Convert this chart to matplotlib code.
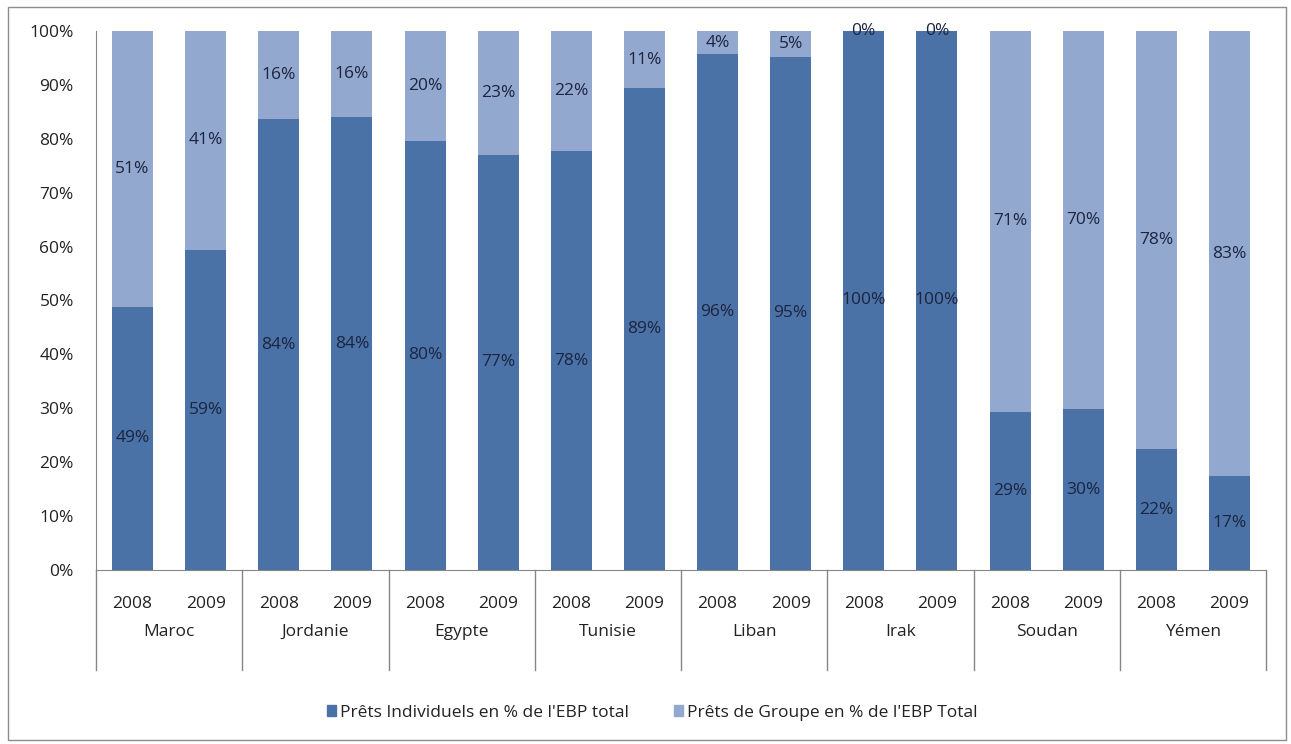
import matplotlib
matplotlib.use("Agg")
import matplotlib.pyplot as plt
from matplotlib.patches import Rectangle
import matplotlib.transforms as mtransforms

plt.rcParams['font.family'] = ['Open Sans', 'DejaVu Sans']

countries = ["Maroc", "Jordanie", "Egypte", "Tunisie", "Liban", "Irak", "Soudan", "Yémen"]
years = ["2008", "2009"]
individuels = [48.8, 59.4, 83.6, 84.0, 79.6, 77.0, 77.7, 89.4, 95.7, 95.2, 100.0, 100.0, 29.4, 29.8, 22.4, 17.4]
groupe = [51.2, 40.6, 16.4, 16.0, 20.4, 23.0, 22.3, 10.6, 4.3, 4.8, 0.0, 0.0, 70.6, 70.2, 77.6, 82.6]
yticks = [0, 10, 20, 30, 40, 50, 60, 70, 80, 90, 100]
legend_labels = ["Prêts Individuels en % de l'EBP total", "Prêts de Groupe en % de l'EBP Total"]

c_ind = "#4A72A6"
c_grp = "#93A8CE"
txt = "#1C2440"
fs = 12.5

W, H = 1291, 744
fig = plt.figure(figsize=(W / 100, H / 100), dpi=100)
ax = fig.add_axes([96 / W, 1 - 570 / H, (1266 - 96) / W, (570 - 31) / H])

x = list(range(len(individuels)))
ax.bar(x, individuels, width=0.56, color=c_ind, zorder=2)
ax.bar(x, groupe, width=0.56, bottom=individuels, color=c_grp, zorder=2)

for i in x:
    v1, v2 = individuels[i], groupe[i]
    ax.text(i, v1 / 2, f"{v1:.0f}%", ha="center", va="center", fontsize=fs, color=txt, zorder=3)
    ax.text(i, v1 + v2 / 2, f"{v2:.0f}%", ha="center", va="center", fontsize=fs, color=txt, zorder=3)

ax.set_xlim(-0.5, len(individuels) - 0.5)
ax.set_ylim(0, 100)
ax.set_yticks(yticks)
ax.set_yticklabels([f"{t}%" for t in yticks], fontsize=fs, color="#222222")
ax.tick_params(axis="y", length=0, pad=16)
ax.set_xticks([])
for s in ["top", "right"]:
    ax.spines[s].set_visible(False)
ax.spines["left"].set_color("#868686")
ax.spines["bottom"].set_color("#868686")

trans = mtransforms.blended_transform_factory(ax.transData, ax.transAxes)
ax_h = 570 - 31
y_year = -(604 - 570) / ax_h
y_country = -(632 - 570) / ax_h
y_sep = -(670 - 570) / ax_h

for i in x:
    ax.text(i, y_year, years[i % 2], transform=trans, ha="center", va="center", fontsize=fs, color="#222222")
for g, name in enumerate(countries):
    ax.text(2 * g + 0.5, y_country, name, transform=trans, ha="center", va="center", fontsize=fs, color="#222222")
for g in range(len(countries) + 1):
    xs = 2 * g - 0.5
    ax.plot([xs, xs], [0, y_sep], transform=trans, color="#868686", lw=1, clip_on=False)

# legend
handles = [Rectangle((0, 0), 1, 1, color=c_ind), Rectangle((0, 0), 1, 1, color=c_grp)]
fig.legend(handles, legend_labels, loc="center", bbox_to_anchor=(652 / W, 1 - 713 / H), ncol=2,
           frameon=False, fontsize=fs, handlelength=0.55, handleheight=0.6, handletextpad=0.2,
           columnspacing=2.6, labelcolor="#222222")

# outer border
fig.patches.append(Rectangle((8 / W, 1 - 740 / H), (1286 - 8) / W, (740 - 7) / H, transform=fig.transFigure,
                             fill=False, edgecolor="#8C8C8C", lw=1))

fig.savefig("out.png", dpi=100)
